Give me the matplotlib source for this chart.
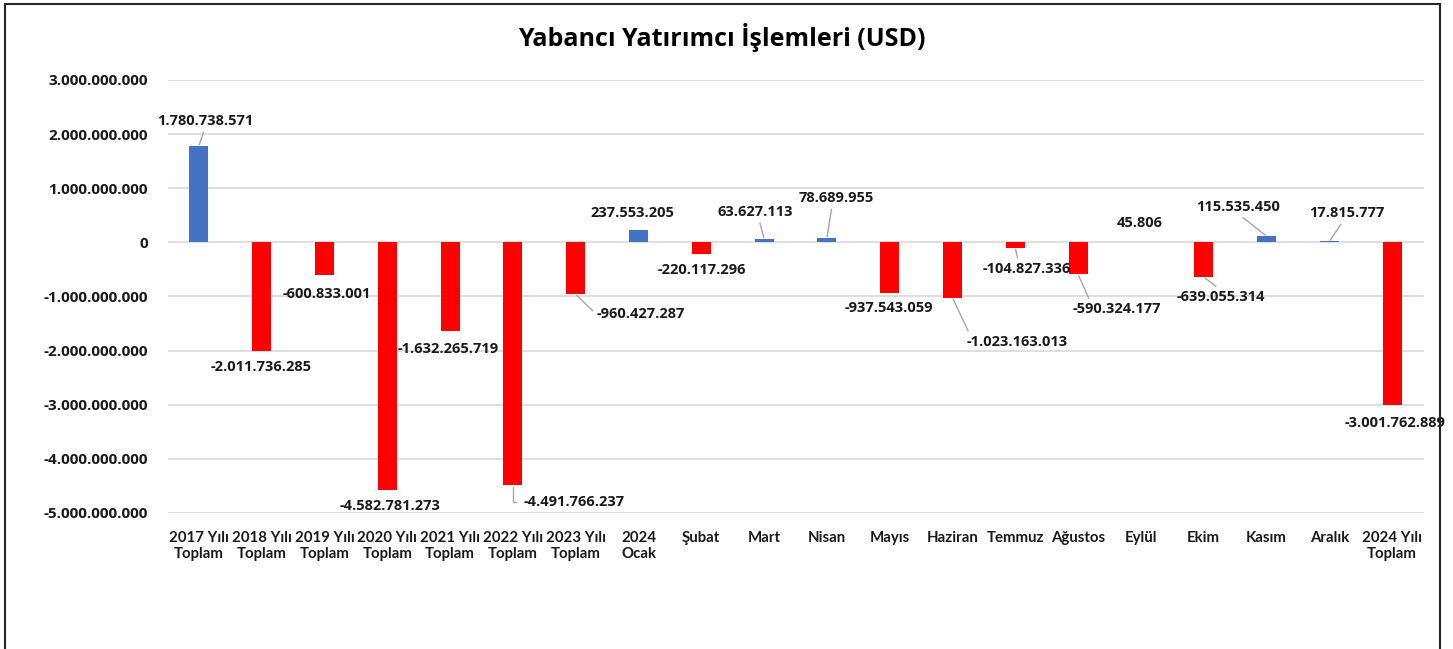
import matplotlib
matplotlib.use("Agg")
import matplotlib.pyplot as plt
from matplotlib.patches import Rectangle
from matplotlib.ticker import FuncFormatter

categories = ["2017 Yılı\nToplam", "2018 Yılı\nToplam", "2019 Yılı\nToplam", "2020 Yılı\nToplam",
              "2021 Yılı\nToplam", "2022 Yılı\nToplam", "2023 Yılı\nToplam", "2024\nOcak",
              "Şubat", "Mart", "Nisan", "Mayıs", "Haziran", "Temmuz", "Ağustos", "Eylül",
              "Ekim", "Kasım", "Aralık", "2024 Yılı\nToplam"]
values = [1780738571, -2011736285, -600833001, -4582781273, -1632265719, -4491766237,
          -960427287, 237553205, -220117296, 63627113, 78689955, -937543059,
          -1023163013, -104827336, -590324177, 45806, -639055314, 115535450,
          17815777, -3001762889]
yticks = [3e9, 2e9, 1e9, 0, -1e9, -2e9, -3e9, -4e9, -5e9]

# label offsets in pixels (dx, dy), leader style and where the leader meets the label
offsets = [(6, 25), (-1, -16), (2, -19), (3, -16), (-2, -18), (61, -17), (65, -20),
           (-6, 17), (1, -16), (-9, 27), (9, 40), (-1, -15), (65, -44), (12, -21),
           (39, -35), (-1, 19), (17, -20), (-28, 29), (18, 28), (3, -18)]
leaders = [True, False, False, False, False, "elbow", True, False, False, True, True,
           False, True, True, True, False, True, True, True, False]
relpos = [(0.5, 0), None, None, None, None, None, (0, 0.5), None, None, (0.55, 0),
          (0.45, 0), None, (0.03, 1), (0.4, 1), (0.2, 1), None, (0.5, 1), (0.5, 0),
          (0.45, 0), None]

W, H = 1453, 649
fig = plt.figure(figsize=(W / 100, H / 100), dpi=100)
ax = fig.add_axes([167.5 / W, 1 - 513 / H, (1423.5 - 167.5) / W, (513 - 80) / H])

colors = ["#4472C4" if v >= 0 else "#FF0000" for v in values]
x = list(range(len(values)))
ax.bar(x, values, width=0.3, color=colors, zorder=3)

ax.set_xlim(-0.5, len(values) - 0.5)
ax.set_ylim(-5e9, 3e9)
ax.set_yticks(yticks)
ax.yaxis.set_major_formatter(FuncFormatter(lambda v, p: f"{int(round(v)):,}".replace(",", ".")))
ax.grid(axis="y", color="#D9D9D9", linewidth=1.2, zorder=0)
for s in ax.spines.values():
    s.set_visible(False)
ax.tick_params(axis="both", length=0)
ax.tick_params(axis="y", pad=14)
ax.set_xticks(x)
ax.set_xticklabels(categories, fontfamily="Lato", fontweight="bold", fontsize=10.8,
                   color="#1a1a1a", linespacing=1.15)
ax.tick_params(axis="x", pad=13)
for lab in ax.get_yticklabels():
    lab.set_fontfamily("Open Sans")
    lab.set_fontweight("bold")
    lab.set_fontsize(11)
    lab.set_color("#1a1a1a")

for i, v in enumerate(values):
    txt = f"{v:,}".replace(",", ".")
    dx, dy = offsets[i]
    kw = {}
    if leaders[i] == "elbow":
        kw["arrowprops"] = dict(arrowstyle="-", color="#A6A6A6", lw=1,
                                connectionstyle="angle,angleA=0,angleB=90,rad=0",
                                shrinkA=3, shrinkB=1)
    elif leaders[i]:
        kw["arrowprops"] = dict(arrowstyle="-", color="#A6A6A6", lw=1, shrinkA=1, shrinkB=1,
                                relpos=relpos[i])
    ax.annotate(txt, xy=(i, v), xytext=(dx, dy), textcoords="offset pixels",
                ha="center", va="center", fontfamily="Open Sans", fontweight="bold",
                fontsize=10.5, color="#1a1a1a", zorder=4, **kw)

fig.text(722 / W, 1 - 38 / H, "Yabancı Yatırımcı İşlemleri (USD)", ha="center", va="center",
         fontfamily="Open Sans", fontweight="bold", fontsize=18, color="#000000")

fig.patches.append(Rectangle((5 / W, -0.05), (1440 - 5) / W, 1.05 - 4 / H,
                             transform=fig.transFigure, fill=False, edgecolor="#262626",
                             linewidth=1.5))

fig.savefig("out.png", dpi=100)
